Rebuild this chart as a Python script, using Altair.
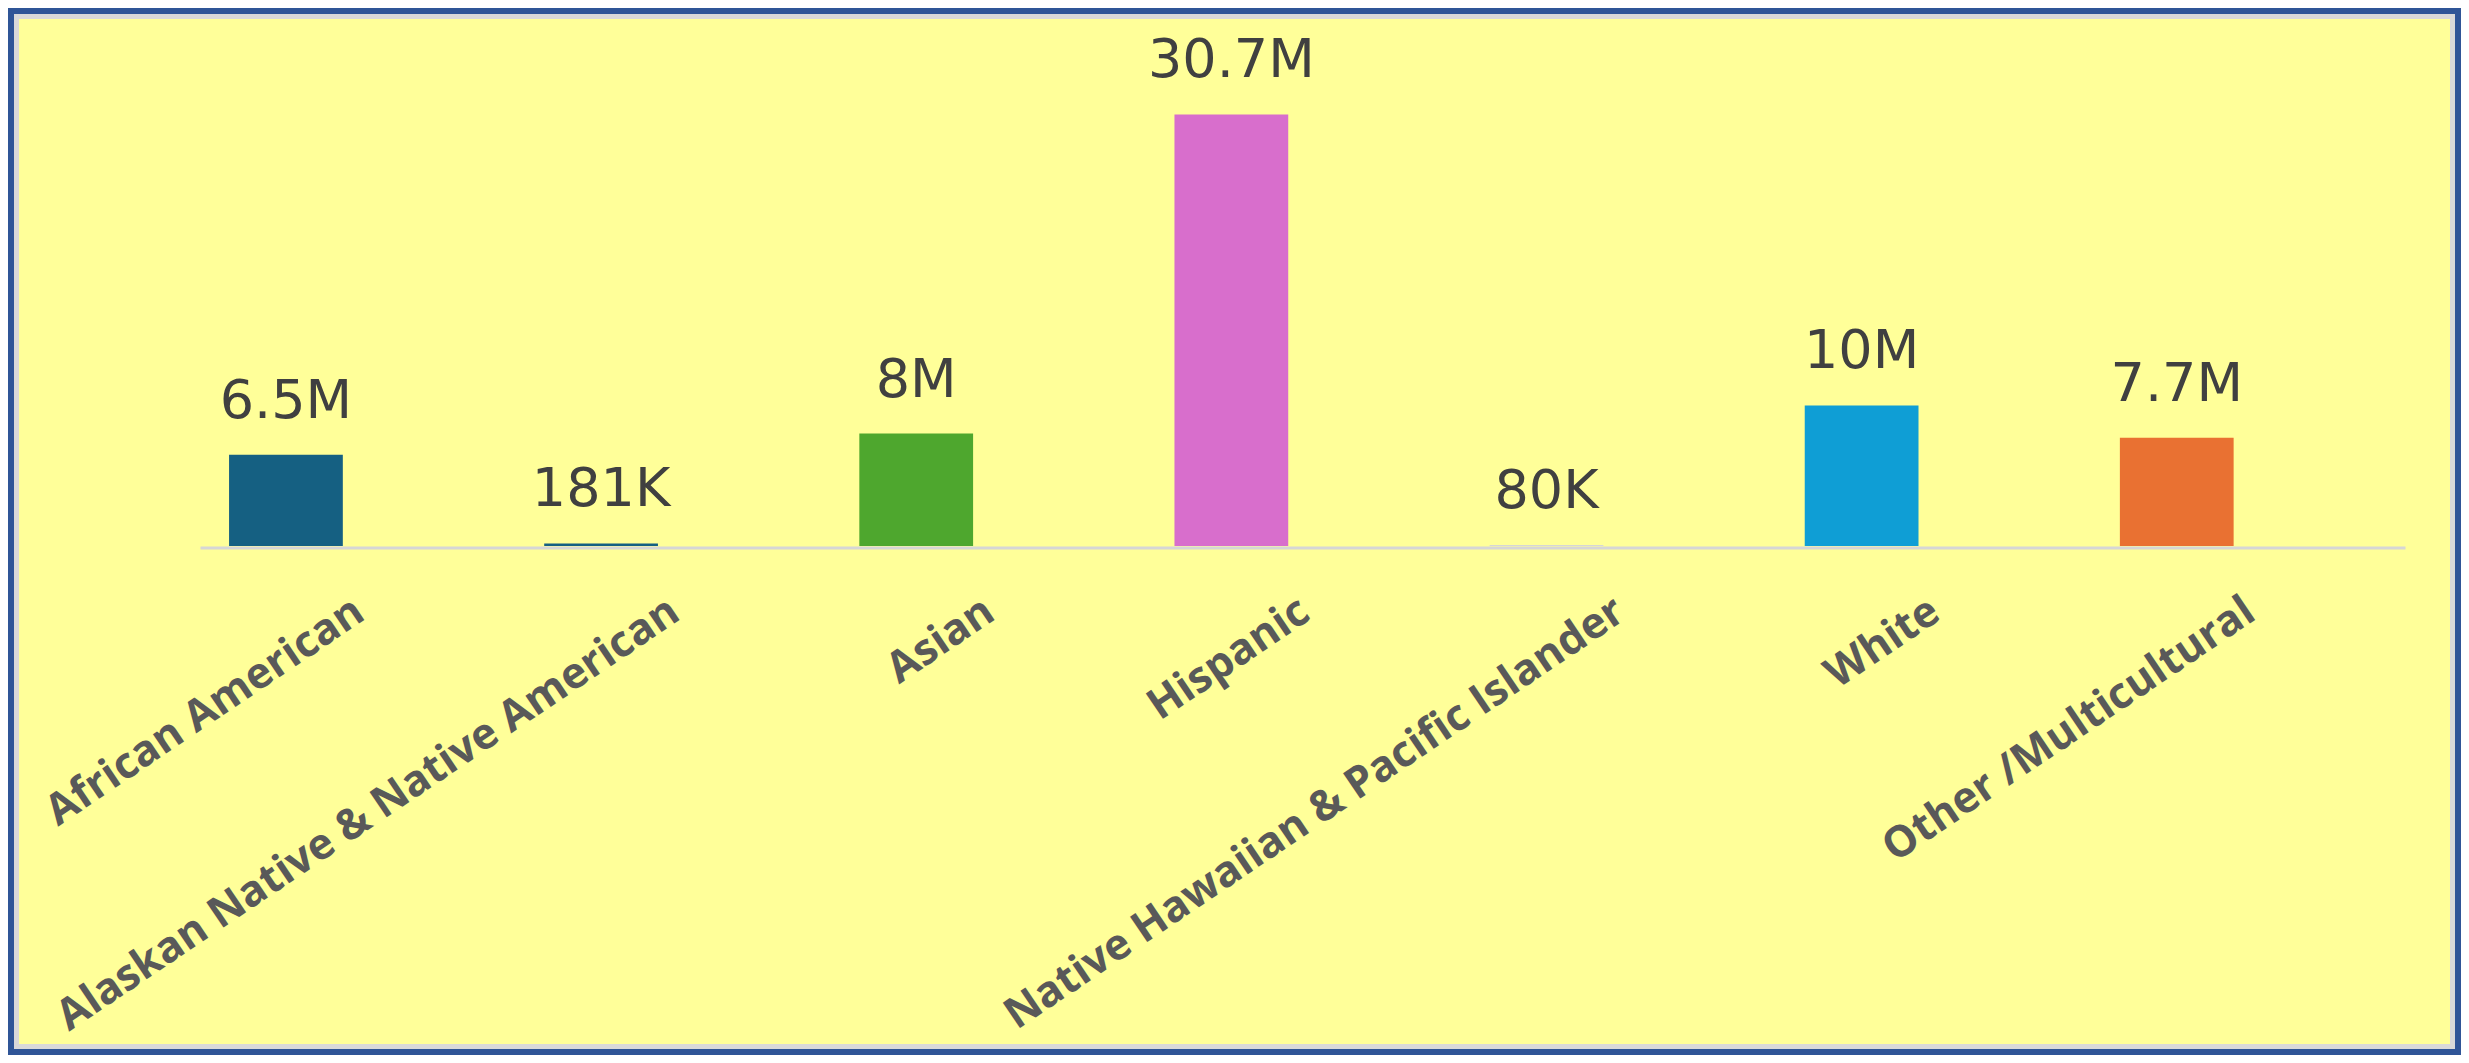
import altair as alt
import pandas as pd

categories = [
    "African American",
    "Alaskan Native & Native American",
    "Asian",
    "Hispanic",
    "Native Hawaiian & Pacific Islander",
    "White",
    "Other /Multicultural",
]
values = [6.5e6, 181e3, 8.0e6, 30.7e6, 80e3, 10.0e6, 7.7e6]
colors = ["#156082", "#156082", "#4EA72E", "#D86ECC", "#D6D6D6", "#0F9ED5", "#E97132"]

df = pd.DataFrame({"category": categories, "value": values})

W, H = 2205, 506
PAD = {"left": 192, "top": 32, "right": 56, "bottom": 509}

x = alt.X(
    "category:N",
    sort=categories,
    title=None,
    scale=alt.Scale(paddingInner=0.639, paddingOuter=0.318, align=0.145),
    axis=alt.Axis(
        labelAngle=326,
        labelFont="Open Sans",
        labelFontWeight="bold",
        labelFontSize=43,
        labelColor="#595959",
        labelLimit=2000,
        labelOverlap=False,
        labelPadding=42,
        labelOffset=62,
        labelAlign="right",
        labelBaseline="top",
        ticks=False,
        tickSize=0,
        domainColor="#D6D6D6",
        domainWidth=3,
        offset=1.5,
        zindex=1,
    ),
)
y = alt.Y("value:Q", scale=alt.Scale(domain=[0, 36e6]), axis=None)

bars = alt.Chart(df).mark_bar().encode(
    x=x,
    y=y,
    color=alt.Color("category:N", scale=alt.Scale(domain=categories, range=colors), legend=None),
)

labels = (
    alt.Chart(df)
    .transform_calculate(label="replace(format(datum.value, '.3~s'), 'k', 'K')")
    .mark_text(font="DejaVu Sans", fontSize=54, color="#404040", baseline="alphabetic", dy=-37)
    .encode(x=x, y=y, text="label:N")
)

frame_data = alt.Data(values=[{"f": 1}])
frame_gray = alt.Chart(frame_data).mark_rect(fillOpacity=0, stroke="#D9D9D9", strokeWidth=5).encode(
    x=alt.value(-183.5), x2=alt.value(2252.5), y=alt.value(-23.5), y2=alt.value(1006.5)
)
frame_blue = alt.Chart(frame_data).mark_rect(fillOpacity=0, stroke="#2F5597", strokeWidth=6).encode(
    x=alt.value(-189), x2=alt.value(2258), y=alt.value(-29), y2=alt.value(1012)
)

chart = (
    alt.layer(frame_gray, frame_blue, bars, labels)
    .properties(
        width=W,
        height=H,
        padding=PAD,
        autosize=alt.AutoSizeParams(type="none"),
        background="#FFFF99",
    )
    .configure_view(stroke="transparent")
)

chart.save("out.html", embed_options={"renderer": "svg", "actions": False})
